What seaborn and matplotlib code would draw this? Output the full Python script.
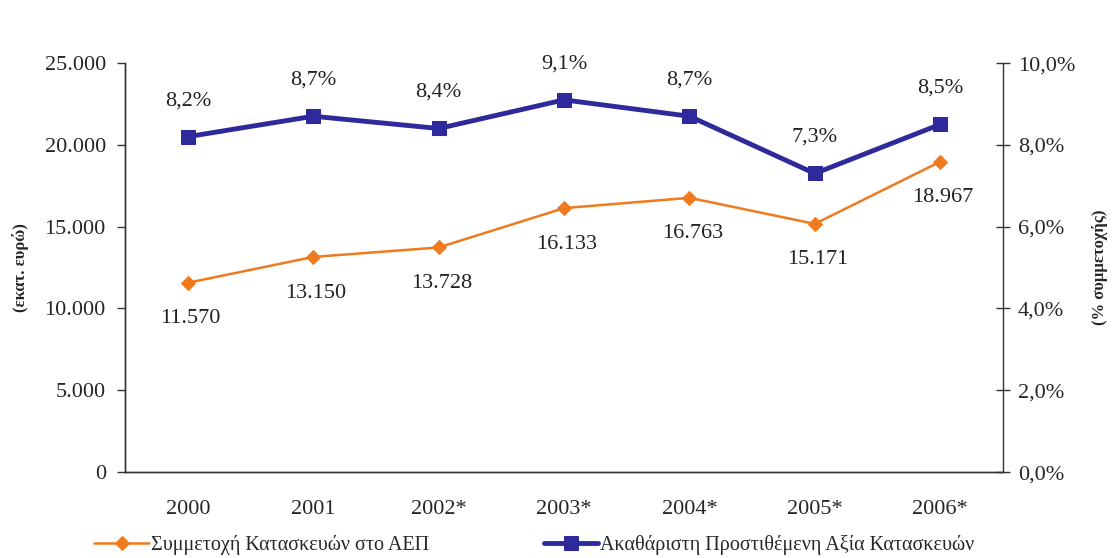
import seaborn as sns
import pandas as pd
import matplotlib.pyplot as plt
from matplotlib.ticker import FuncFormatter, FixedLocator

years = ["2000", "2001", "2002*", "2003*", "2004*", "2005*", "2006*"]
gdp_share = [11570, 13150, 13728, 16133, 16763, 15171, 18967]
gva_pct = [8.2, 8.7, 8.4, 9.1, 8.7, 7.3, 8.5]

sns.set_theme(style="white")
plt.rcParams['font.family'] = ['Liberation Serif', 'DejaVu Serif']

orange = "#F07A1E"
navy = "#2E2A9C"

df = pd.DataFrame({"pos": range(len(years)), "year": years,
                   "gdp": gdp_share, "gva": gva_pct})

fig = plt.figure(figsize=(11.18, 5.58), dpi=100)
ax = fig.add_axes([0.112, 0.154, 0.785, 0.733])
ax2 = ax.twinx()

sns.lineplot(data=df, x="pos", y="gdp", ax=ax, color=orange, linewidth=1.8,
             marker="D", markersize=7, markeredgecolor=orange,
             label="Συμμετοχή Κατασκευών στο ΑΕΠ", legend=False)
sns.lineplot(data=df, x="pos", y="gva", ax=ax2, color=navy, linewidth=3.5,
             marker="s", markersize=10, markeredgecolor=navy,
             label="Ακαθάριστη Προστιθέμενη Αξία Κατασκευών", legend=False)

ax.set_xlim(-0.5, len(years) - 0.5)
ax.set_ylim(0, 25000)
ax2.set_ylim(0, 10)
ax.set_yticks(range(0, 25001, 5000))
ax2.set_yticks(range(0, 11, 2))

fs = 16
ax.yaxis.set_major_formatter(FuncFormatter(lambda v, p: f"{int(v):,}".replace(",", ".")))
ax2.yaxis.set_major_formatter(FuncFormatter(lambda v, p: f"{v:.1f}%".replace(".", ",")))

ax.set_xticks(list(df["pos"]))
ax.set_xticklabels(years)
ax.xaxis.set_minor_locator(FixedLocator([i - 0.5 for i in range(len(years) + 1)]))
ax.tick_params(axis="x", which="major", length=0, labelsize=fs, pad=20)
ax.tick_params(axis="x", which="minor", length=6, direction="out", width=1, color="#333333")
ax.tick_params(axis="y", length=6, direction="out", width=1, labelsize=fs, color="#333333", pad=8)
ax2.tick_params(axis="y", length=10, direction="inout", width=1, labelsize=fs, color="#333333", pad=6)

ax.set_xlabel("")
ax.set_ylabel("(εκατ. ευρώ)", fontsize=12, fontweight="bold", labelpad=11)
ax2.set_ylabel("(% συμμετοχής)", fontsize=12, fontweight="bold", rotation=90, labelpad=12)

for a in (ax, ax2):
    a.spines["top"].set_visible(False)
    for s in ("left", "right", "bottom"):
        a.spines[s].set_color("#333333")
        a.spines[s].set_linewidth(1)
ax.spines["right"].set_visible(False)

for i, v in enumerate(gdp_share):
    ax.annotate(f"{v:,}".replace(",", "."), (i, v), xytext=(2, -26), textcoords="offset points",
                ha="center", va="center", fontsize=fs, color="#222222")
for i, v in enumerate(gva_pct):
    ax2.annotate(f"{v:.1f}%".replace(".", ","), (i, v), xytext=(0, 26), textcoords="offset points",
                 ha="center", va="center", fontsize=fs, color="#222222")

h1, l1 = ax.get_legend_handles_labels()
h2, l2 = ax2.get_legend_handles_labels()
fig.legend(h1 + h2, l1 + l2, loc="lower center", bbox_to_anchor=(0.478, -0.028), ncol=2,
           frameon=False, fontsize=14.5, columnspacing=5.7, handlelength=2.7, handletextpad=0.1)

fig.savefig("out.png", dpi=100)
